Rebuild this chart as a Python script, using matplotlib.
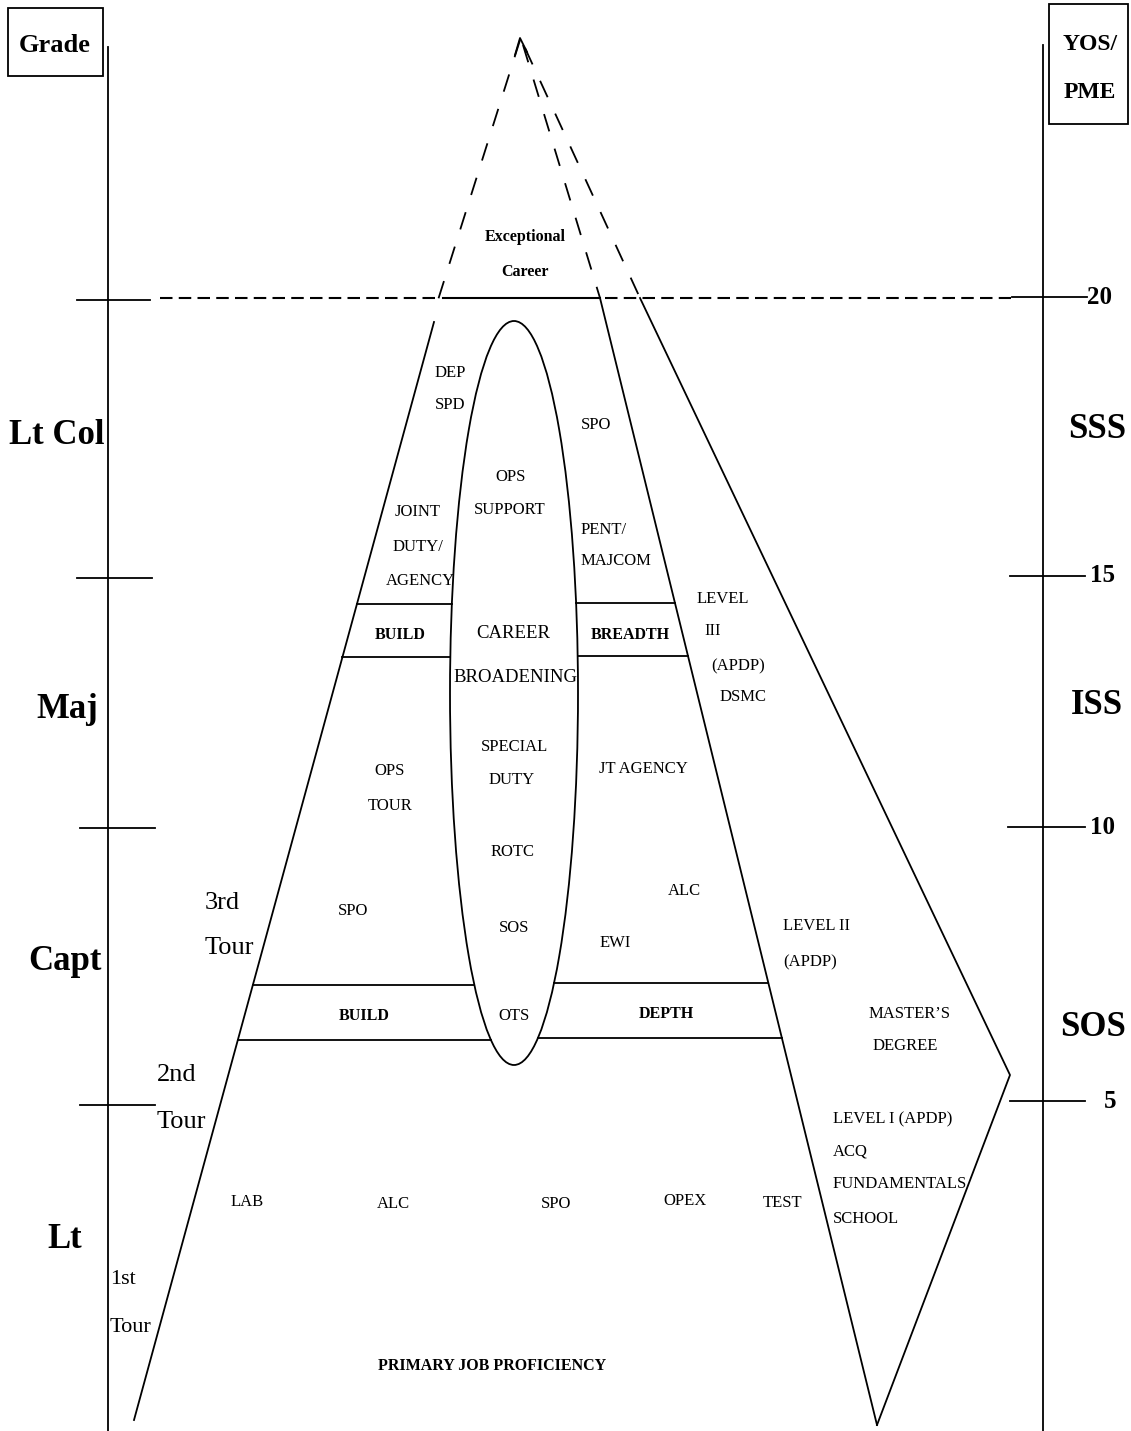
import numpy as np
import matplotlib
matplotlib.use("Agg")
import matplotlib.pyplot as plt
from matplotlib.patches import Ellipse, Rectangle

plt.rcParams['font.family'] = ['Liberation Serif', 'DejaVu Serif']

W, H = 1131, 1431

# grade labels on the left axis
grades = ['Lt Col', 'Maj', 'Capt', 'Lt']
grade_x = [57, 67, 65, 65]
grade_y = [435, 710, 962, 1240]
grade_tick_y = [300, 578, 828, 1105]

# years of service / PME on the right axis
yos = ['20', '15', '10', '5']
yos_x = [1100, 1103, 1103, 1110]
yos_y = [297, 576, 827, 1101]
pme = ['SSS', 'ISS', 'SOS']
pme_x = [1097, 1097, 1093]
pme_y = [430, 705, 1028]

# pyramid outlines (pixel space, y down)
apex = (520, 40)
left_edge = [(134, 1420), (434, 322)]
inner_right = [(600, 298), (877, 1425)]
outer_right = [(640, 298), (1010, 1075), (877, 1425)]
left_dash_end = (438, 300)
inner_dash = [(523, 45), (600, 298)]
outer_dash = [(525, 48), (640, 298)]

# career broadening ellipse
ell_c = (514, 693)
ell_w, ell_h = 128, 744

# band lines (left side y, right side y)
band_left_y = [604, 657, 985, 1040]
band_right_y = [603, 656, 983, 1038]

# small labels: (x, y, text, size, bold, ha)
labels = [
    (525, 237, 'Exceptional', 11.5, True, 'center'),
    (525, 272, 'Career', 11.5, True, 'center'),
    (450, 373, 'DEP', 12, False, 'center'),
    (450, 405, 'SPD', 12, False, 'center'),
    (596, 425, 'SPO', 12, False, 'center'),
    (511, 477, 'OPS', 12, False, 'center'),
    (510, 510, 'SUPPORT', 12, False, 'center'),
    (418, 512, 'JOINT', 12, False, 'center'),
    (418, 547, 'DUTY/', 12, False, 'center'),
    (420, 581, 'AGENCY', 12, False, 'center'),
    (581, 530, 'PENT/', 12, False, 'left'),
    (581, 561, 'MAJCOM', 12, False, 'left'),
    (697, 599, 'LEVEL', 12, False, 'left'),
    (704, 631, 'III', 12, False, 'left'),
    (711, 666, '(APDP)', 12, False, 'left'),
    (720, 697, 'DSMC', 12, False, 'left'),
    (400, 635, 'BUILD', 11.5, True, 'center'),
    (513, 634, 'CAREER', 13.5, False, 'center'),
    (515, 678, 'BROADENING', 13.5, False, 'center'),
    (630, 635, 'BREADTH', 11.5, True, 'center'),
    (515, 747, 'SPECIAL', 12, False, 'center'),
    (512, 780, 'DUTY', 12, False, 'center'),
    (390, 771, 'OPS', 12, False, 'center'),
    (390, 806, 'TOUR', 12, False, 'center'),
    (643, 769, 'JT AGENCY', 12, False, 'center'),
    (513, 852, 'ROTC', 12, False, 'center'),
    (684, 891, 'ALC', 12, False, 'center'),
    (353, 911, 'SPO', 12, False, 'center'),
    (514, 928, 'SOS', 12, False, 'center'),
    (615, 943, 'EWI', 12, False, 'center'),
    (783, 926, 'LEVEL II', 12, False, 'left'),
    (783, 962, '(APDP)', 12, False, 'left'),
    (364, 1016, 'BUILD', 11.5, True, 'center'),
    (514, 1016, 'OTS', 12, False, 'center'),
    (666, 1014, 'DEPTH', 11.5, True, 'center'),
    (910, 1014, 'MASTER\u2019S', 12, False, 'center'),
    (905, 1046, 'DEGREE', 12, False, 'center'),
    (833, 1119, 'LEVEL I (APDP)', 12, False, 'left'),
    (833, 1151, 'ACQ', 12, False, 'left'),
    (833, 1184, 'FUNDAMENTALS', 12, False, 'left'),
    (833, 1219, 'SCHOOL', 12, False, 'left'),
    (247, 1202, 'LAB', 12, False, 'center'),
    (393, 1204, 'ALC', 12, False, 'center'),
    (556, 1204, 'SPO', 12, False, 'center'),
    (685, 1201, 'OPEX', 12, False, 'center'),
    (783, 1203, 'TEST', 12, False, 'center'),
    (492, 1366, 'PRIMARY JOB PROFICIENCY', 11.5, True, 'center'),
]

tours = [(205, 903, '3rd', 19), (205, 948, 'Tour', 19),
         (157, 1075, '2nd', 19), (157, 1122, 'Tour', 19),
         (110, 1280, '1st', 16), (110, 1328, 'Tour', 16)]


def xs(pts):
    return [p[0] for p in pts]


def ys(pts):
    return [p[1] for p in pts]


def edge_x(y, pts):
    p = sorted(pts, key=lambda q: q[1])
    return np.interp(y, ys(p), xs(p))


def ell_half(y):
    t = (y - ell_c[1]) / (ell_h / 2)
    return ell_w / 2 * np.sqrt(max(0.0, 1 - t * t))


fig = plt.figure(figsize=(W / 100, H / 100), dpi=100)
ax = fig.add_axes([0, 0, 1, 1])
ax.set_xlim(0, W)
ax.set_ylim(H, 0)
ax.axis('off')

lw = 1.3
k = 'black'

# axes lines and header boxes
ax.plot([108, 108], [47, H], color=k, lw=lw)
ax.plot([1043, 1043], [45, H], color=k, lw=lw)
ax.add_patch(Rectangle((8, 8), 95, 68, fill=False, ec=k, lw=lw))
ax.add_patch(Rectangle((1049, 4), 79, 120, fill=False, ec=k, lw=lw))
ax.text(55, 45, 'Grade', ha='center', va='center', fontsize=19, fontweight='bold')
ax.text(1090, 45, 'YOS/', ha='center', va='center', fontsize=17, fontweight='bold')
ax.text(1090, 92, 'PME', ha='center', va='center', fontsize=17, fontweight='bold')

# ticks
for y, x0, x1 in zip(grade_tick_y, [77, 77, 80, 80], [150, 152, 155, 155]):
    ax.plot([x0, x1], [y, y], color=k, lw=lw)
for y, x0, x1 in zip(yos_y, [1012, 1010, 1008, 1010], [1087, 1085, 1085, 1085]):
    ax.plot([x0, x1], [y, y], color=k, lw=lw)

for g, x, y in zip(grades, grade_x, grade_y):
    ax.text(x, y, g, ha='center', va='center', fontsize=25, fontweight='bold')
for s, x, y in zip(yos, yos_x, yos_y):
    ax.text(x, y, s, ha='center', va='center', fontsize=18, fontweight='bold')
for s, x, y in zip(pme, pme_x, pme_y):
    ax.text(x, y, s, ha='center', va='center', fontsize=25, fontweight='bold')

# 20-year line
ax.plot([160, 437], [298, 298], color=k, lw=1.5, ls=(0, (6, 3)))
ax.plot([443, 600], [298, 298], color=k, lw=1.5)
ax.plot([605, 1011], [298, 298], color=k, lw=1.5, ls=(0, (6, 3)))

# exceptional career (dashed)
dash = (0, (10, 10))
ax.plot([apex[0], left_dash_end[0]], [apex[1], left_dash_end[1]], color=k, lw=1.3, ls=dash)
ax.plot(xs(inner_dash), ys(inner_dash), color=k, lw=1.3, ls=dash)
ax.plot(xs(outer_dash), ys(outer_dash), color=k, lw=1.3, ls=dash)
ax.plot([515, 520, 527], [55, 38, 52], color=k, lw=1.3)

# pyramid
ax.plot(xs(left_edge), ys(left_edge), color=k, lw=lw)
ax.plot(xs(inner_right), ys(inner_right), color=k, lw=lw)
ax.plot(xs(outer_right), ys(outer_right), color=k, lw=lw)

ax.add_patch(Ellipse(ell_c, ell_w, ell_h, fill=False, ec=k, lw=lw))

for y in band_left_y:
    ax.plot([edge_x(y, left_edge), ell_c[0] - ell_half(y)], [y, y], color=k, lw=lw)
for y in band_right_y:
    ax.plot([ell_c[0] + ell_half(y), edge_x(y, inner_right)], [y, y], color=k, lw=lw)

for x, y, s, fs, b, ha in labels:
    ax.text(x, y, s, ha=ha, va='center', fontsize=fs,
            fontweight='bold' if b else 'normal')
for x, y, s, fs in tours:
    ax.text(x, y, s, ha='left', va='center', fontsize=fs)

fig.savefig('out.png', dpi=100)
